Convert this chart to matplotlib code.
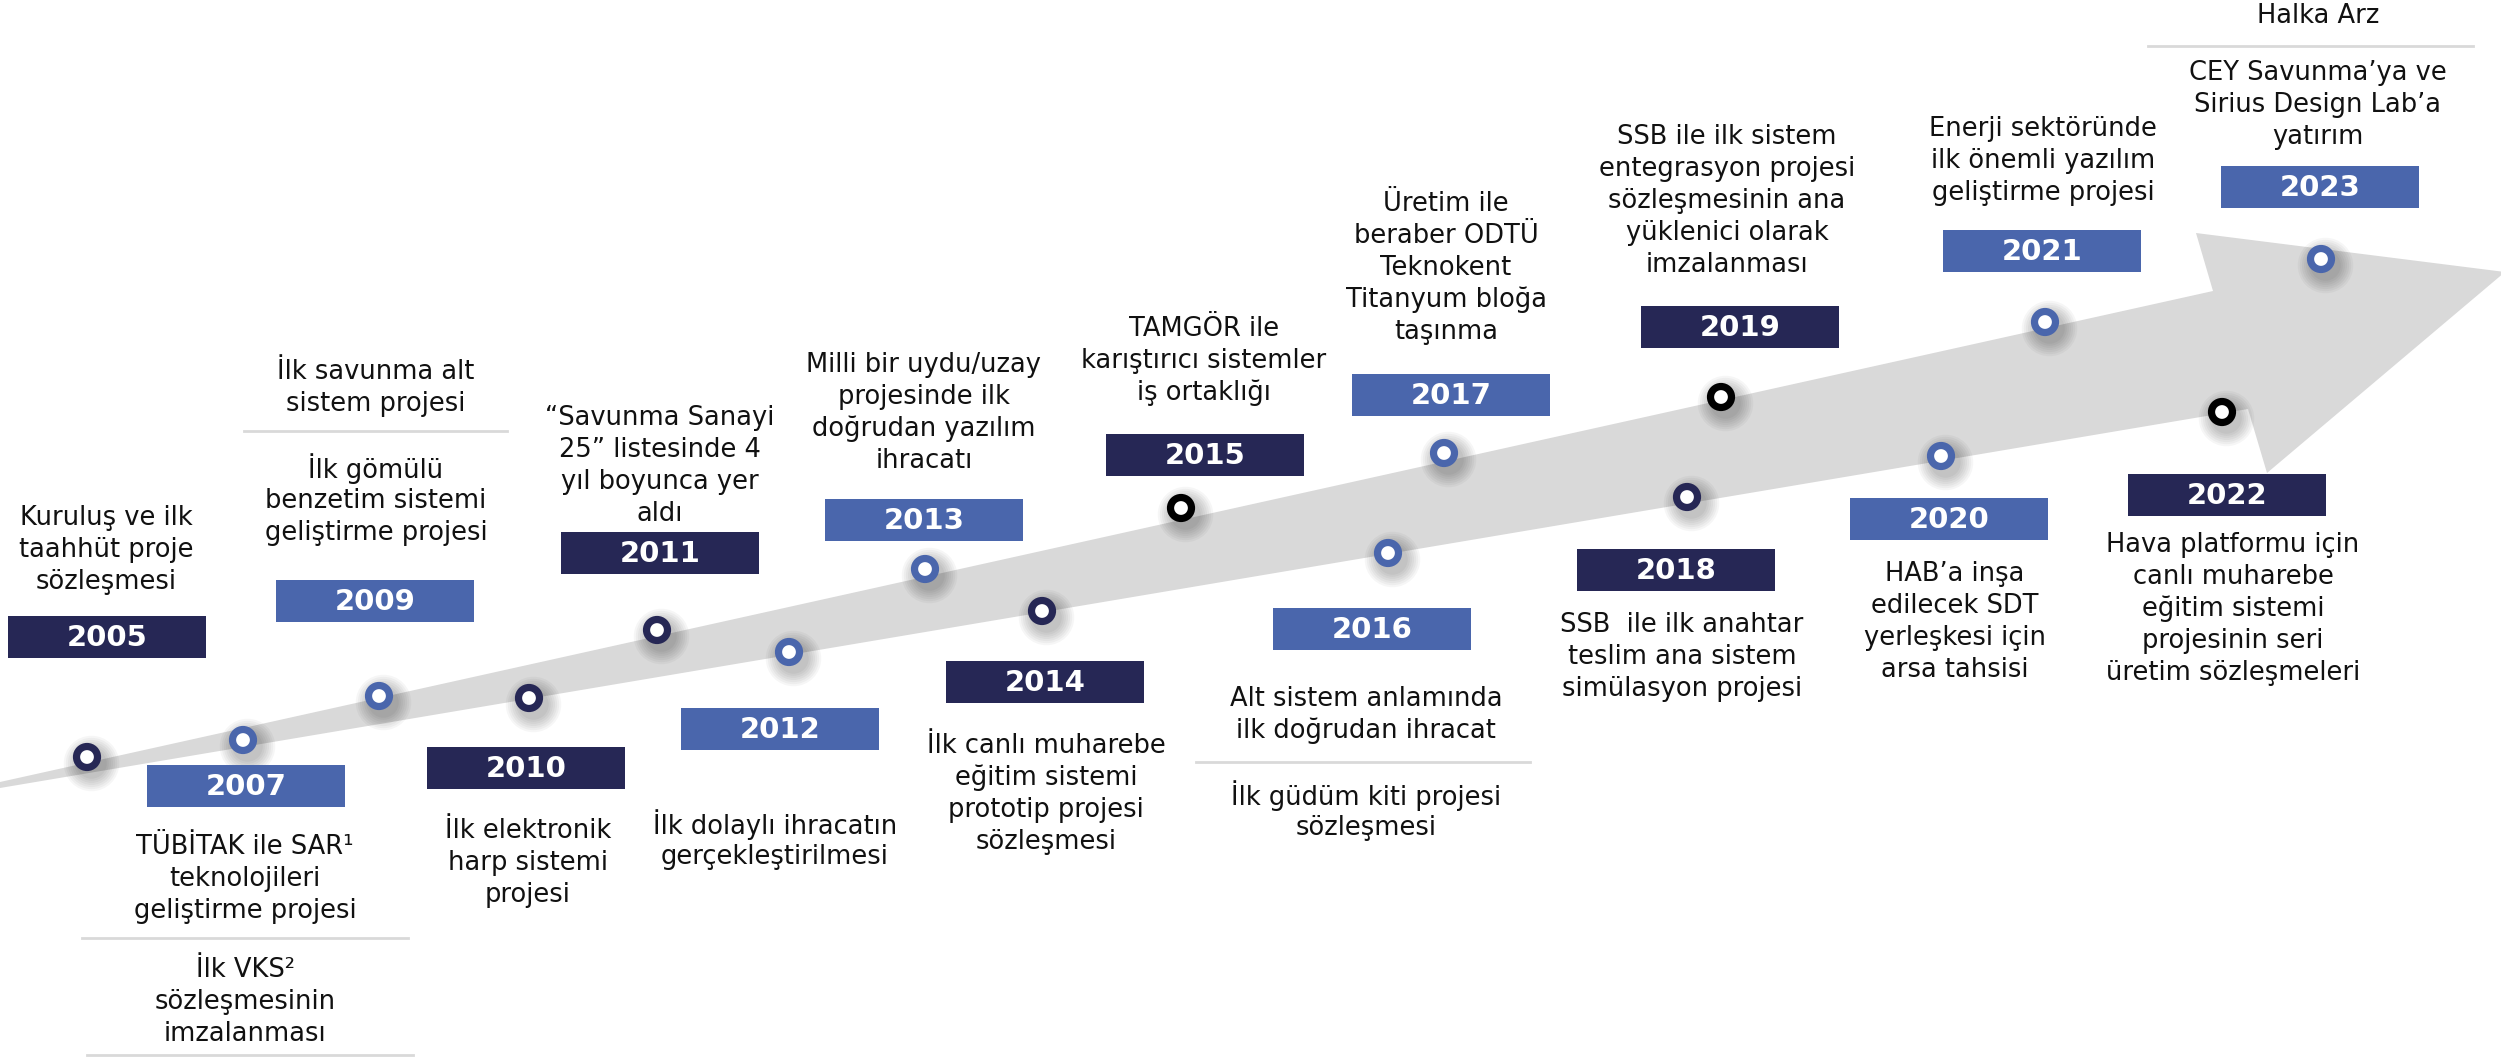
import matplotlib
matplotlib.use("Agg")
import matplotlib.pyplot as plt
from matplotlib.patches import Polygon, Rectangle

NAVY = '#262755'
BLUE = '#4a66ac'
BLACK = '#000000'
GRAY = '#d9d9d9'

years = ['2005', '2007', '2009', '2010', '2011', '2012', '2013', '2014', '2015',
         '2016', '2017', '2018', '2019', '2020', '2021', '2022', '2023']

captions = [
    [["Kuruluş ve ilk", "taahhüt proje", "sözleşmesi"]],
    [["TÜBİTAK ile SAR¹", "teknolojileri", "geliştirme projesi"],
     ["İlk VKS²", "sözleşmesinin", "imzalanması"]],
    [["İlk savunma alt", "sistem projesi"],
     ["İlk gömülü", "benzetim sistemi", "geliştirme projesi"]],
    [["İlk elektronik", "harp sistemi", "projesi"]],
    [["“Savunma Sanayi", "25” listesinde 4", "yıl boyunca yer", "aldı"]],
    [["İlk dolaylı ihracatın", "gerçekleştirilmesi"]],
    [["Milli bir uydu/uzay", "projesinde ilk", "doğrudan yazılım", "ihracatı"]],
    [["İlk canlı muharebe", "eğitim sistemi", "prototip projesi", "sözleşmesi"]],
    [["TAMGÖR ile", "karıştırıcı sistemler", "iş ortaklığı"]],
    [["Alt sistem anlamında", "ilk doğrudan ihracat"],
     ["İlk güdüm kiti projesi", "sözleşmesi"]],
    [["Üretim ile", "beraber ODTÜ", "Teknokent", "Titanyum bloğa", "taşınma"]],
    [["SSB  ile ilk anahtar", "teslim ana sistem", "simülasyon projesi"]],
    [["SSB ile ilk sistem", "entegrasyon projesi", "sözleşmesinin ana",
      "yüklenici olarak", "imzalanması"]],
    [["HAB’a inşa", "edilecek SDT", "yerleşkesi için", "arsa tahsisi"]],
    [["Enerji sektöründe", "ilk önemli yazılım", "geliştirme projesi"]],
    [["Hava platformu için", "canlı muharebe", "eğitim sistemi",
      "projesinin seri", "üretim sözleşmeleri"]],
    [["Halka Arz"], ["CEY Savunma’ya ve", "Sirius Design Lab’a", "yatırım"]],
]

# layout (pixel coords, y down)
dot_x = [87, 243, 379, 529, 657, 789, 925, 1042, 1181, 1388, 1444, 1687, 1721, 1941, 2045, 2222, 2321]
dot_y = [757, 740, 696, 698, 630, 652, 569, 611, 508, 553, 453, 497, 397, 456, 322, 412, 259]
dot_col = [NAVY, BLUE, BLUE, NAVY, NAVY, BLUE, BLUE, NAVY, BLACK, BLUE, BLUE, NAVY, BLACK,
           BLUE, BLUE, BLACK, BLUE]
box_x = [107, 246, 375, 526, 660, 780, 924, 1045, 1205, 1372, 1451, 1676, 1740, 1949, 2042, 2227, 2320]
box_y = [637, 786, 601, 768, 553, 729, 520, 682, 455, 629, 395, 570, 327, 519, 251, 495, 187]
box_col = [NAVY, BLUE, BLUE, NAVY, NAVY, BLUE, BLUE, NAVY, NAVY, BLUE, BLUE, NAVY, NAVY,
           BLUE, BLUE, NAVY, BLUE]
text_x = [106, 245, 376, 528, 660, 775, 924, 1046, 1204, 1366, 1446, 1682, 1727, 1955, 2043, 2233, 2318]
block_y = [[518], [847, 970], [372, 469], [831], [418], [825], [365], [746], [329],
           [699, 796], [204], [625], [137], [574], [129], [545], [16, 73]]
separators = [(82, 408, 938), (87, 413, 1055), (244, 507, 431), (1196, 1530, 762),
              (2148, 2473, 46)]
arrow = [(0, 782), (2213, 291), (2196, 233), (2505, 272), (2267, 473), (2248, 409), (0, 788)]

W, H = 2501, 1058
fig = plt.figure(figsize=(W / 100, H / 100), dpi=100)
ax = fig.add_axes([0, 0, 1, 1])
ax.set_xlim(0, W)
ax.set_ylim(H, 0)
ax.axis('off')

ax.add_patch(Polygon(arrow, closed=True, facecolor=GRAY, edgecolor='none', zorder=1))

# soft shadow under the dots
for k in range(7):
    ax.scatter([x + 4 for x in dot_x], [y + 6 for y in dot_y], s=(22 + 3 * k) ** 2,
               color='black', alpha=0.035, linewidths=0, zorder=2)
ax.scatter(dot_x, dot_y, s=228, facecolor='white', edgecolor=dot_col, linewidths=5.2, zorder=3)

bw, bh = 198, 42
for yr, x, y, c in zip(years, box_x, box_y, box_col):
    ax.add_patch(Rectangle((x - bw / 2, y - bh / 2), bw, bh, facecolor=c, edgecolor='none', zorder=3))
    ax.text(x, y + 1, yr, ha='center', va='center', color='white', fontsize=21,
            fontweight='bold', zorder=4)

step = 32
for cap, tx, ys in zip(captions, text_x, block_y):
    for block, y0 in zip(cap, ys):
        for i, line in enumerate(block):
            ax.text(tx, y0 + i * step, line, ha='center', va='center', color='#111111',
                    fontsize=18.5, zorder=4)

for x0, x1, y in separators:
    ax.plot([x0, x1], [y, y], color=GRAY, lw=2, zorder=2)

fig.savefig('out.png', dpi=100)
